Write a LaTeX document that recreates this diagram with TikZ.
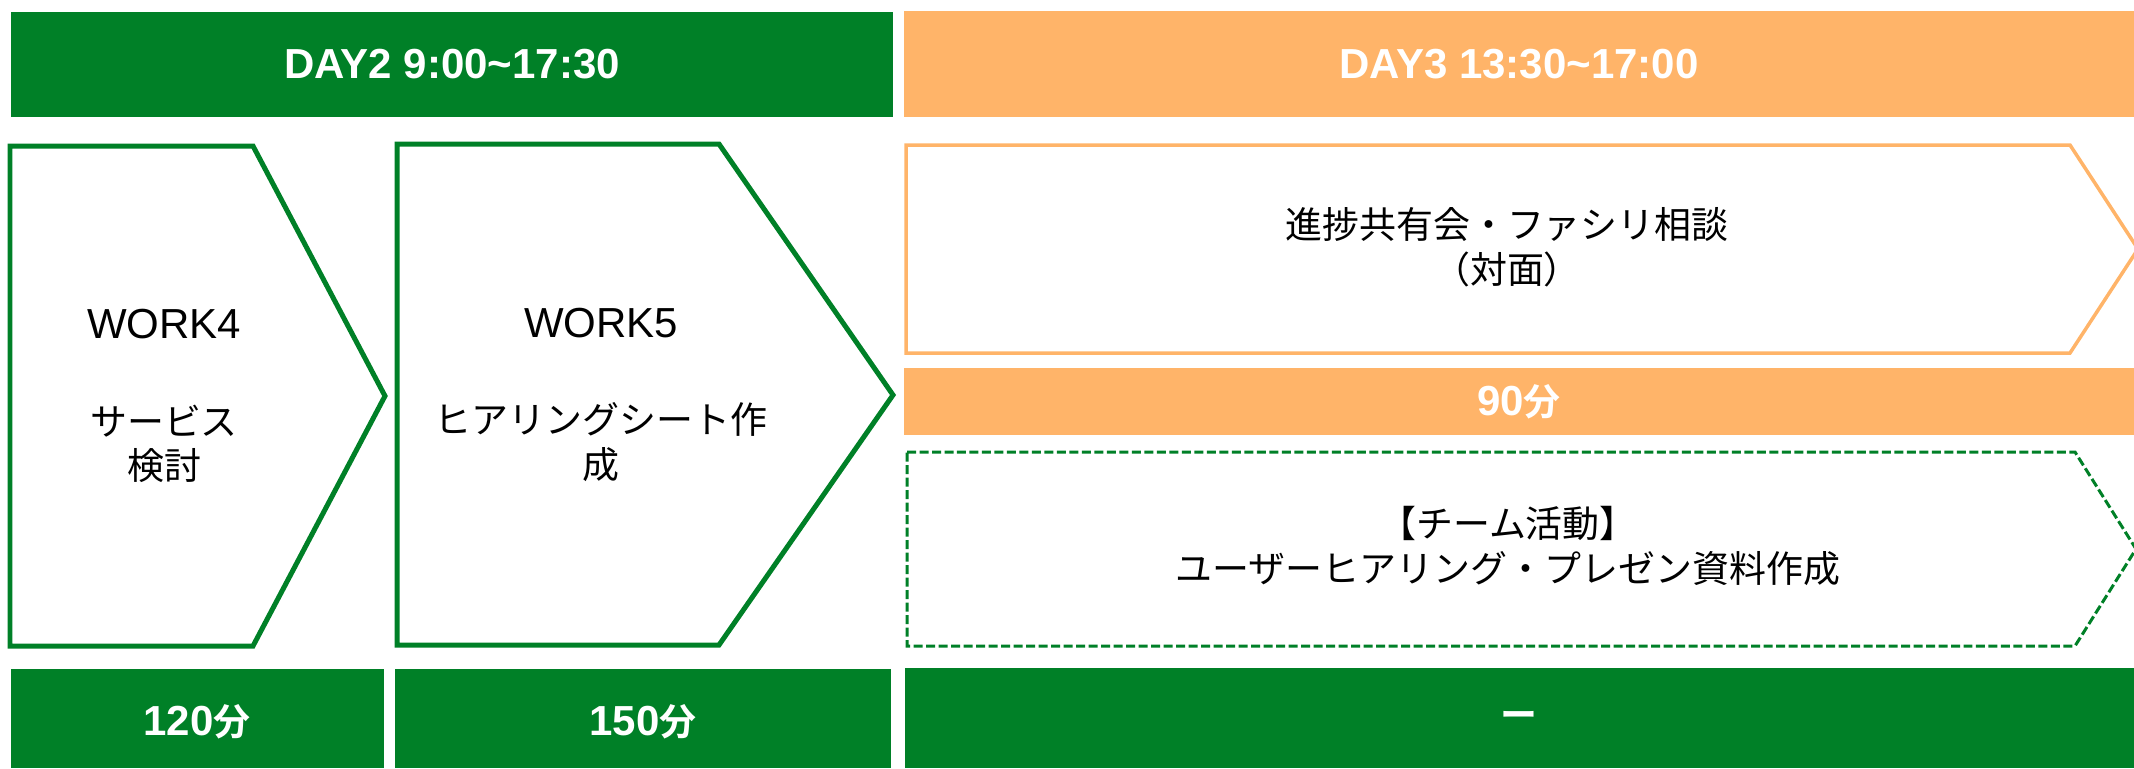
\documentclass[tikz,border=0pt]{standalone}
\usepackage{fontspec}
\setmainfont{Liberation Sans}
\newfontfamily\jp[Scale=0.88,BoldFont={Noto Sans CJK JP Bold}]{Noto Sans CJK JP}
\definecolor{dkgreen}{RGB}{0,128,39}
\definecolor{peach}{RGB}{255,180,105}
\begin{document}
\begin{tikzpicture}[x=0.02cm,y=-0.02cm,
  hdr/.style={text=white, font=\fontsize{23.9}{28}\selectfont\bfseries},
  txt/.style={align=center, font=\fontsize{23.9}{25.5}\selectfont},
  jtxt/.style={align=center, font=\fontsize{23.9}{25.5}\selectfont\jp}]
\useasboundingbox (0,0) rectangle (2134,768);
\fill[dkgreen] (11,12) rectangle (893,117);
\fill[peach] (904,11) rectangle (2134,117);
\node[hdr] (day2) at (452,64.5) {DAY2 9:00\textasciitilde 17:30};
\node[hdr] (day3) at (1519,64) {DAY3 13:30\textasciitilde 17:00};
\draw[dkgreen, line width=0.1cm] (10,146) -- (253,146) -- (385,396) -- (253,646) -- (10,646) -- cycle;
\node[txt] (work4) at (164,396) {WORK4\\[29.5pt]{\jp サービス}\\{\jp 検討}};
\draw[dkgreen, line width=0.1cm] (397,144) -- (719,144) -- (893,395) -- (719,645) -- (397,645) -- cycle;
\node[txt] (work5) at (601,395) {WORK5\\[29.5pt]{\jp ヒアリングシート作}\\{\jp 成}};
\draw[peach, line width=0.07cm] (906,145) -- (2070,145) -- (2138,249) -- (2070,353) -- (906,353) -- cycle;
\node[jtxt] (share) at (1507,247) {進捗共有会・ファシリ相談\\（対面）};
\fill[peach] (904,368) rectangle (2134,435);
\node[hdr] (t90) at (1519,402) {90{\jp 分}};
\draw[dkgreen, line width=0.06cm, dash pattern=on 0.18cm off 0.07cm] (907,452) -- (2075,452) -- (2136,549) -- (2075,646) -- (907,646) -- cycle;
\node[jtxt] (team) at (1508,546) {【チーム活動】\\ユーザーヒアリング・プレゼン資料作成};
\fill[dkgreen] (11,669) rectangle (384,768);
\fill[dkgreen] (395,669) rectangle (891,768);
\fill[dkgreen] (905,668) rectangle (2134,768);
\node[hdr] (t120) at (197,722) {120{\jp 分}};
\node[hdr] (t150) at (643,722) {150{\jp 分}};
\node[hdr] (tnone) at (1519,720) {\jp ー};
\end{tikzpicture}
\end{document}
